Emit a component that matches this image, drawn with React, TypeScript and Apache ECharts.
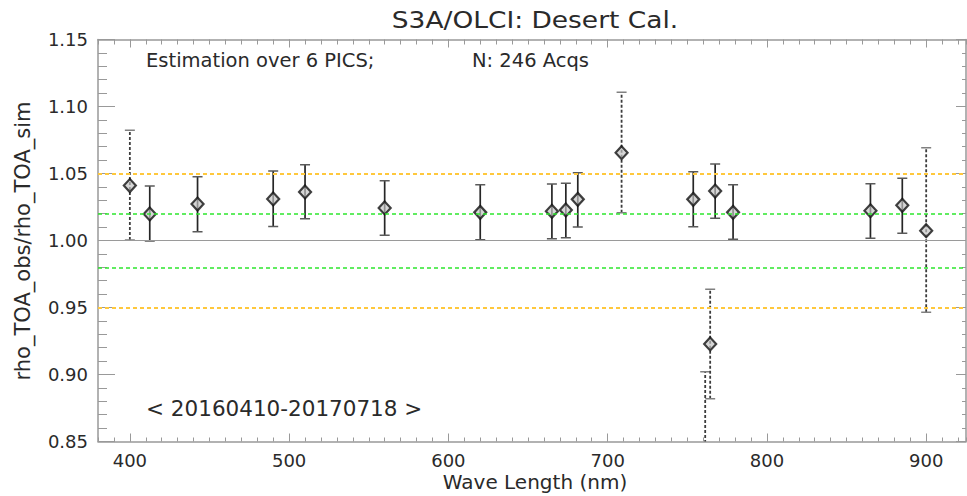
import React, { useEffect, useRef } from "react";
import * as echarts from "echarts";

// OLCI band centre wavelengths (nm)
const wavelengths = [400, 412.5, 442.5, 490, 510, 560, 620, 665, 673.75, 681.25, 708.75, 753.75, 761.25, 764.375, 767.5, 778.75, 865, 885, 900];
// Mean ratio rho_TOA_obs / rho_TOA_sim
const ratio = [1.041, 1.0198, 1.0272, 1.031, 1.0362, 1.0243, 1.021, 1.0218, 1.0228, 1.0307, 1.0655, 1.0307, 0.84, 0.9228, 1.0369, 1.021, 1.0222, 1.0263, 1.0073];
// Error bar limits
const errLow = [1.0004, 0.9996, 1.0066, 1.0105, 1.0162, 1.0039, 1.0006, 1.0013, 1.0021, 1.0101, 1.0207, 1.0103, 0.778, 0.8819, 1.0166, 1.0009, 1.0016, 1.0054, 0.9464];
const errHigh = [1.0822, 1.0407, 1.0476, 1.0519, 1.0566, 1.0446, 1.0416, 1.0422, 1.0427, 1.0506, 1.1106, 1.0513, 0.9021, 0.9636, 1.0571, 1.0416, 1.0424, 1.0464, 1.0693];
// Bands with dashed (low-confidence) error bars
const dashedBands = [1, 0, 0, 0, 0, 0, 0, 0, 0, 0, 1, 0, 1, 1, 0, 0, 0, 0, 1];

// Reference levels
const refLevels = [1.05, 1.02, 1.0, 0.98, 0.95];

// Axis definitions
const xMin = 380;
const xMax = 925;
const xMajorTicks = [400, 500, 600, 700, 800, 900];
const yMin = 0.85;
const yMax = 1.15;
const yStep = 0.05;

const titleText = "S3A/OLCI: Desert Cal.";
const noteText = "Estimation over 6 PICS;";
const countText = "N: 246 Acqs";
const periodText = "< 20160410-20170718 >";
const xName = "Wave Length (nm)";
const yName = "rho_TOA_obs/rho_TOA_sim";

const FONT = "DejaVu Sans";
const TXT = "#2a2a2a";
const AXIS = "#999";

function refStyle(v: number) {
  if (v === 1.0) return { color: "#9a9a9a", width: 1, type: "solid" as const };
  if (Math.abs(v - 1) > 0.04) return { color: "#ffc83c", width: 2, type: [4, 3] };
  return { color: "#2ee62e", width: 1.5, type: [4, 3] };
}

export default function App() {
  const ref = useRef<HTMLDivElement>(null);
  useEffect(() => {
    if (!ref.current) return;
    const chart = echarts.init(ref.current, undefined, { renderer: "svg" });
    const gridRect = { left: 98, right: 1, top: 39.5, bottom: 54.5, outerBoundsMode: "none" };
    const option: any = {
      animation: false,
      backgroundColor: "#fff",
      grid: [gridRect, gridRect],
      xAxis: [
        {
          type: "value", gridIndex: 0, position: "bottom", min: xMin, max: xMax,
          axisLine: { show: true, lineStyle: { color: AXIS, width: 1.5 } },
          axisTick: { show: true, inside: true, length: 8, customValues: xMajorTicks, lineStyle: { color: AXIS } },
          axisLabel: { show: true, customValues: xMajorTicks, margin: 10, fontSize: 18, fontFamily: FONT, color: TXT },
          splitLine: { show: false },
        },
        {
          type: "value", gridIndex: 0, position: "top", min: xMin, max: xMax,
          axisLine: { show: true, lineStyle: { color: AXIS, width: 1.5 } },
          axisTick: { show: true, inside: true, length: 8, customValues: xMajorTicks, lineStyle: { color: AXIS } },
          axisLabel: { show: false },
          splitLine: { show: false },
        },
        {
          type: "value", gridIndex: 1, position: "bottom", min: xMin, max: xMax, interval: 10,
          axisLine: { show: false },
          axisTick: { show: true, inside: true, length: 4, lineStyle: { color: AXIS } },
          axisLabel: { show: false },
          splitLine: { show: false },
        },
        {
          type: "value", gridIndex: 1, position: "top", min: xMin, max: xMax, interval: 10,
          axisLine: { show: false },
          axisTick: { show: true, inside: true, length: 5, lineStyle: { color: AXIS } },
          axisLabel: { show: false },
          splitLine: { show: false },
        },
      ],
      yAxis: [
        {
          type: "value", gridIndex: 0, position: "left", min: yMin, max: yMax, interval: yStep,
          axisLine: { show: true, lineStyle: { color: AXIS, width: 1.5 } },
          axisTick: { show: true, inside: true, length: 17, lineStyle: { color: AXIS } },
          minorTick: { show: true, splitNumber: 5, length: 9, lineStyle: { color: AXIS } },
          axisLabel: {
            show: true, margin: 10, fontSize: 18, fontFamily: FONT, color: TXT,
            showMinLabel: true, showMaxLabel: true,
            formatter: (v: number) => v.toFixed(2),
          },
          splitLine: { show: false },
        },
        {
          type: "value", gridIndex: 0, position: "right", min: yMin, max: yMax, interval: yStep,
          axisLine: { show: true, lineStyle: { color: AXIS, width: 1.5 } },
          axisTick: { show: true, inside: true, length: 10, lineStyle: { color: AXIS } },
          minorTick: { show: true, splitNumber: 5, length: 4, lineStyle: { color: AXIS } },
          axisLabel: { show: false },
          splitLine: { show: false },
        },
        {
          type: "value", gridIndex: 1, min: yMin, max: yMax, show: false,
        },
      ],
      series: [
        {
          type: "line",
          xAxisIndex: 0, yAxisIndex: 0,
          data: [],
          z: 1,
          silent: true,
          markLine: {
            silent: true,
            symbol: ["none", "none"],
            label: { show: false },
            emphasis: { disabled: true },
            data: refLevels.map((v) => ({ yAxis: v, lineStyle: refStyle(v) })),
          },
        },
        {
          type: "custom",
          xAxisIndex: 0, yAxisIndex: 0,
          clip: true,
          z: 3,
          silent: true,
          data: wavelengths.map((w, i) => [w, errLow[i], errHigh[i], dashedBands[i]]),
          encode: { x: 0, y: [1, 2] },
          renderItem: (params: any, api: any) => {
            const x = api.value(0);
            const lo = api.coord([x, api.value(1)]);
            const hi = api.coord([x, api.value(2)]);
            const dashed = api.value(3) === 1;
            const hw = 5;
            const barStyle = dashed
              ? { stroke: "#3c3c3c", lineWidth: 1.8, lineDash: [3, 2] }
              : { stroke: "#262626", lineWidth: 1.7 };
            const capStyle = { stroke: dashed ? "#808080" : "#5a5a5a", lineWidth: 1.5 };
            return {
              type: "group",
              children: [
                { type: "line", shape: { x1: lo[0], y1: lo[1], x2: hi[0], y2: hi[1] }, style: barStyle },
                { type: "line", shape: { x1: hi[0] - hw, y1: hi[1], x2: hi[0] + hw, y2: hi[1] }, style: capStyle },
                { type: "line", shape: { x1: lo[0] - hw, y1: lo[1], x2: lo[0] + hw, y2: lo[1] }, style: capStyle },
              ],
            };
          },
        },
        {
          type: "scatter",
          xAxisIndex: 0, yAxisIndex: 0,
          clip: true,
          z: 4,
          symbol: "diamond",
          symbolSize: [12, 13],
          itemStyle: { color: "rgba(195,195,195,0.85)", borderColor: "#111", borderWidth: 2.2 },
          data: wavelengths.map((w, i) => [w, ratio[i]]),
        },
      ],
      graphic: [
        {
          type: "text", x: 535, y: 20.5, scaleX: 1.15, z: 10,
          style: { text: titleText, fontSize: 23, fontFamily: FONT, fill: TXT, align: "center", verticalAlign: "middle" },
        },
        {
          type: "text", x: 146, y: 60, z: 10,
          style: { text: noteText, fontSize: 19.5, fontFamily: FONT, fill: TXT, align: "left", verticalAlign: "middle" },
        },
        {
          type: "text", x: 472, y: 60, z: 10,
          style: { text: countText, fontSize: 19.5, fontFamily: FONT, fill: TXT, align: "left", verticalAlign: "middle" },
        },
        {
          type: "text", x: 146, y: 408, z: 10,
          style: { text: periodText, fontSize: 21.5, fontFamily: FONT, fill: TXT, align: "left", verticalAlign: "middle" },
        },
        {
          type: "text", x: 535, y: 482, z: 10,
          style: { text: xName, fontSize: 20, fontFamily: FONT, fill: TXT, align: "center", verticalAlign: "middle" },
        },
        {
          type: "text", x: 23, y: 241, rotation: Math.PI / 2, z: 10,
          style: { text: yName, fontSize: 21, fontFamily: FONT, fill: TXT, align: "center", verticalAlign: "middle" },
        },
      ],
    };
    chart.setOption(option);
    return () => chart.dispose();
  }, []);
  return (
    <div
      ref={ref}
      style={{ position: "fixed", left: 0, top: 0, width: 967, height: 496, background: "#fff" }}
    />
  );
}
